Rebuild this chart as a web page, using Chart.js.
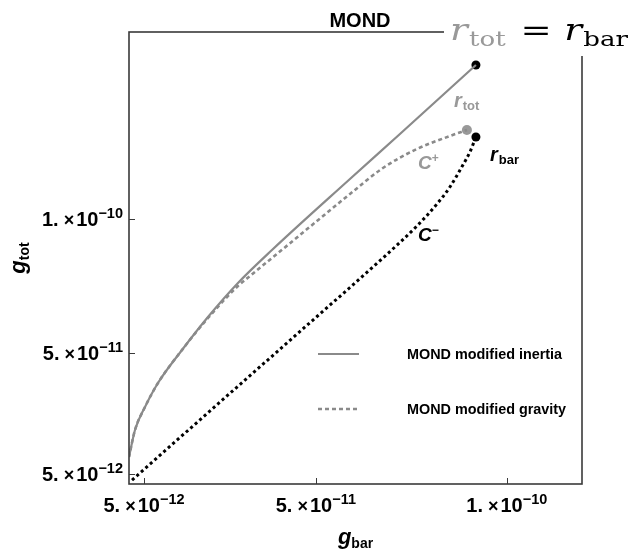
<!DOCTYPE html>
<html>
<head>
<meta charset="utf-8">
<script src="https://cdn.jsdelivr.net/npm/chart.js@4.4.0/dist/chart.umd.min.js"></script>
<style>
html, body { margin: 0; padding: 0; background: #fff; }
</style>
</head>
<body>
<canvas id="myChart" width="629" height="550"></canvas>
<script>
// curves (g_bar, g_tot in m/s^2)
const gBarInertia = [1.07e-12, 2.64e-12, 5.26e-12, 8.66e-12, 14.95e-12, 21.75e-12, 29.61e-12, 38.51e-12, 58.93e-12, 72.02e-12, 91.92e-12];
const gTotInertia = [11.34e-12, 21.42e-12, 30.0e-12, 38.95e-12, 51.26e-12, 63.57e-12, 76.26e-12, 88.57e-12, 115.06e-12, 131.85e-12, 157.59e-12];

const gBarGravity = [1.07e-12, 2.64e-12, 5.26e-12, 8.66e-12, 14.95e-12, 21.75e-12, 29.61e-12, 32.75e-12, 41.39e-12, 50.29e-12, 58.93e-12, 67.57e-12, 76.47e-12, 85.11e-12, 89.56e-12];
const gTotGravity = [11.34e-12, 21.42e-12, 30.0e-12, 38.95e-12, 51.26e-12, 63.2e-12, 75.14e-12, 78.87e-12, 88.94e-12, 99.39e-12, 109.46e-12, 119.16e-12, 126.25e-12, 131.1e-12, 133.34e-12];

const gBarMinus = [1.86e-12, 14.42e-12, 26.2e-12, 37.99e-12, 50.29e-12, 58.93e-12, 67.57e-12, 76.47e-12, 81.71e-12, 85.11e-12, 88.51e-12, 90.35e-12, 91.92e-12];
const gTotMinus = [2.76e-12, 18.62e-12, 33.47e-12, 48.28e-12, 63.76e-12, 74.58e-12, 85.59e-12, 97.52e-12, 105.73e-12, 112.07e-12, 120.28e-12, 125.13e-12, 130.73e-12];

// end points
const rTotPoint = [91.92e-12, 157.59e-12];
const cPlusEnd = [89.56e-12, 133.34e-12];
const rBarPoint = [91.92e-12, 130.73e-12];

// axis ticks
const xTicks = [5e-12, 5e-11, 1e-10];
const xTickLabels = [['5.', '-12'], ['5.', '-11'], ['1.', '-10']];
const yTicks = [1e-10, 5e-11, 5e-12];
const yTickLabels = [['1.', '-10'], ['5.', '-11'], ['5.', '-12']];

const legendLabels = ['MOND modified inertia', 'MOND modified gravity'];

const GRAY = '#8a8a8a';

function pts(xs, ys) {
    return xs.map((x, i) => ({x: x, y: ys[i]}));
}

// draw a row of text pieces with their own fonts / offsets
function drawRuns(ctx, runs, x, y, align, fitWidth) {
    let w = 0;
    runs.forEach(r => { ctx.font = r.font; w += ctx.measureText(r.t).width + (r.gap || 0); });
    const sx = fitWidth ? fitWidth / w : 1;
    let cx = 0;
    if (align === 'center') cx = -w / 2;
    if (align === 'right') cx = -w;
    ctx.save();
    ctx.translate(x, y);
    ctx.scale(sx, 1);
    ctx.textBaseline = 'alphabetic';
    ctx.textAlign = 'left';
    runs.forEach(r => {
        ctx.font = r.font;
        ctx.fillStyle = r.color || '#000';
        ctx.fillText(r.t, cx, r.dy || 0);
        cx += ctx.measureText(r.t).width + (r.gap || 0);
    });
    ctx.restore();
}

function sciRuns(lab) {
    return [
        {t: lab[0], font: 'bold 20px "Liberation Sans"', gap: 5},
        {t: '\u00d7', font: 'bold 18px "Liberation Sans"', gap: 2},
        {t: '10', font: 'bold 20px "Liberation Sans"'},
        {t: lab[1].replace('-', '\u2212'), font: 'bold 14.5px "Liberation Sans"', dy: -8}
    ];
}

const framePlugin = {
    id: 'framePlugin',
    afterDraw(chart) {
        const ctx = chart.ctx;
        const a = chart.chartArea;
        const xs = chart.scales.x, ys = chart.scales.y;
        ctx.save();
        // frame
        ctx.strokeStyle = '#3a3a3a';
        ctx.lineWidth = 1.6;
        ctx.strokeRect(a.left, a.top, a.right - a.left, a.bottom - a.top);
        // inside ticks
        ctx.lineWidth = 1;
        ctx.beginPath();
        xTicks.forEach(v => {
            const px = Math.round(xs.getPixelForValue(v)) + 0.5;
            ctx.moveTo(px, a.bottom); ctx.lineTo(px, a.bottom - 6);
        });
        yTicks.forEach(v => {
            const py = Math.round(ys.getPixelForValue(v)) + 0.5;
            ctx.moveTo(a.left, py); ctx.lineTo(a.left + 6, py);
        });
        ctx.stroke();

        // tick labels
        xTicks.forEach((v, i) => {
            drawRuns(ctx, sciRuns(xTickLabels[i]), xs.getPixelForValue(v), a.bottom + 28, 'center');
        });
        yTicks.forEach((v, i) => {
            drawRuns(ctx, sciRuns(yTickLabels[i]), a.left - 6, ys.getPixelForValue(v) + 7, 'right');
        });

        // axis titles
        drawRuns(ctx, [
            {t: 'g', font: 'italic bold 22px "Liberation Sans"'},
            {t: 'bar', font: 'bold 14px "Liberation Sans"', dy: 4}
        ], (a.left + a.right) / 2, 544, 'center');
        ctx.save();
        ctx.translate(25, (a.top + a.bottom) / 2);
        ctx.rotate(-Math.PI / 2);
        drawRuns(ctx, [
            {t: 'g', font: 'italic bold 22px "Liberation Sans"'},
            {t: 'tot', font: 'bold 14px "Liberation Sans"', dy: 4}
        ], 0, 0, 'center');
        ctx.restore();

        // title
        drawRuns(ctx, [{t: 'MOND', font: 'bold 20px "Liberation Sans"'}], 360, 27, 'center');

        // white box for the big label over the corner
        ctx.fillStyle = '#fff';
        ctx.fillRect(444, 0, 185, 56);
        drawRuns(ctx, [
            {t: 'r', font: 'italic 30px "DejaVu Serif"', color: '#999', gap: 1},
            {t: 'tot', font: '21px "DejaVu Serif"', color: '#999', dy: 6, gap: 12},
            {t: '=', font: '30px "DejaVu Serif"', gap: 10},
            {t: 'r', font: 'italic 30px "DejaVu Serif"', gap: 1},
            {t: 'bar', font: '21px "DejaVu Serif"', dy: 6}
        ], 450, 40, 'left', 178);

        // point / curve annotations
        drawRuns(ctx, [
            {t: 'r', font: 'italic bold 20px "Liberation Sans"', color: '#999', gap: 1},
            {t: 'tot', font: 'bold 13px "Liberation Sans"', color: '#999', dy: 3}
        ], 454, 107, 'left');
        drawRuns(ctx, [
            {t: 'C', font: 'italic bold 19px "Liberation Sans"', color: '#999'},
            {t: '+', font: 'bold 12px "Liberation Sans"', color: '#999', dy: -7}
        ], 418, 169, 'left');
        drawRuns(ctx, [
            {t: 'r', font: 'italic bold 20px "Liberation Sans"', gap: 1},
            {t: 'bar', font: 'bold 13px "Liberation Sans"', dy: 3}
        ], 490, 161, 'left');
        drawRuns(ctx, [
            {t: 'C', font: 'italic bold 19px "Liberation Sans"'},
            {t: '\u2212', font: 'bold 12px "Liberation Sans"', dy: -7}
        ], 418, 241, 'left');

        // legend
        const ds = chart.data.datasets;
        [354, 409].forEach((ly, i) => {
            ctx.strokeStyle = ds[i].borderColor;
            ctx.lineWidth = ds[i].borderWidth;
            ctx.setLineDash(ds[i].borderDash || []);
            ctx.beginPath();
            ctx.moveTo(318, ly); ctx.lineTo(359, ly);
            ctx.stroke();
            ctx.setLineDash([]);
            drawRuns(ctx, [{t: legendLabels[i], font: 'bold 14.4px "Liberation Sans"'}], 407, ly + 5, 'left');
        });
        ctx.restore();
    }
};

const data = {
    datasets: [{
        label: legendLabels[0],
        data: pts(gBarInertia, gTotInertia),
        borderColor: GRAY,
        borderWidth: 2.2,
        showLine: true,
        pointRadius: 0,
        cubicInterpolationMode: 'monotone'
    }, {
        label: legendLabels[1],
        data: pts(gBarGravity, gTotGravity),
        borderColor: GRAY,
        borderWidth: 2.6,
        borderDash: [4, 3],
        showLine: true,
        pointRadius: 0,
        cubicInterpolationMode: 'monotone'
    }, {
        label: 'C-',
        data: pts(gBarMinus, gTotMinus),
        borderColor: '#000',
        borderWidth: 3,
        borderDash: [3, 3],
        showLine: true,
        pointRadius: 0,
        cubicInterpolationMode: 'monotone'
    }, {
        label: 'end C+',
        data: [{x: cPlusEnd[0], y: cPlusEnd[1]}],
        pointRadius: 5,
        pointBackgroundColor: '#999',
        pointBorderWidth: 0,
        showLine: false
    }, {
        label: 'r points',
        data: [{x: rTotPoint[0], y: rTotPoint[1]}, {x: rBarPoint[0], y: rBarPoint[1]}],
        pointRadius: 4.5,
        pointBackgroundColor: '#000',
        pointBorderWidth: 0,
        showLine: false
    }]
};

const config = {
    type: 'scatter',
    data,
    options: {
        responsive: false,
        animation: false,
        devicePixelRatio: 1,
        layout: {padding: {left: 129, top: 32, right: 47, bottom: 66}},
        plugins: {legend: {display: false}, tooltip: {enabled: false}},
        scales: {
            x: {type: 'linear', display: false, min: 1.07e-12, max: 1.197e-10},
            y: {type: 'linear', display: false, min: 1.27e-12, max: 1.699e-10}
        }
    },
    plugins: [framePlugin]
};

var myChart = new Chart(document.getElementById('myChart'), config);
</script>
</body>
</html>
